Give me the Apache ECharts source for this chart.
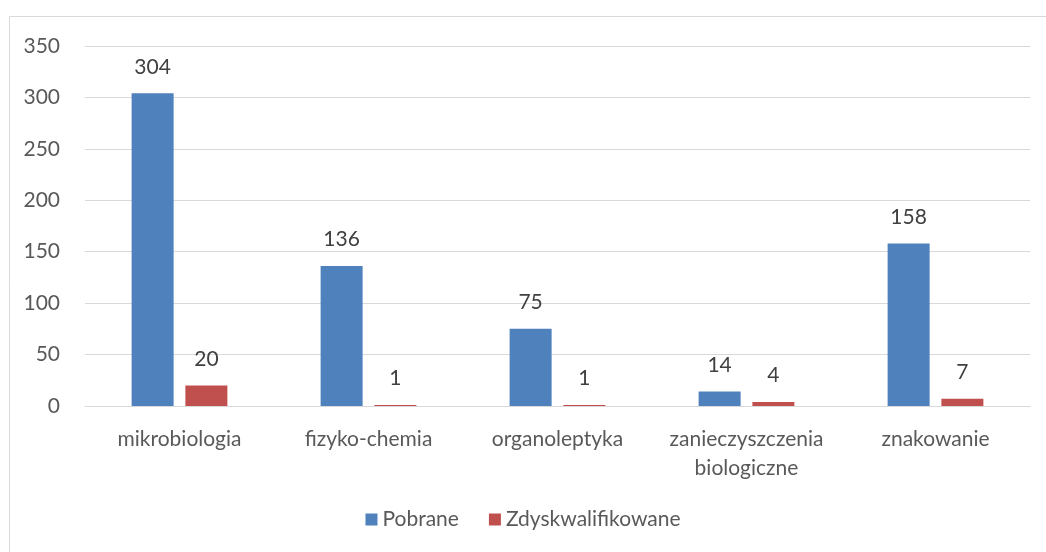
<!DOCTYPE html>
<html>
<head>
<meta charset="utf-8">
<script src="https://cdn.jsdelivr.net/npm/echarts@6/dist/echarts.min.js"></script>
<style>
  html, body { margin: 0; padding: 0; background: #fff; }
  #chart { width: 1046px; height: 552px; }
</style>
</head>
<body>
<div id="chart"></div>
<script>
  var categories = ['mikrobiologia', 'fizyko-chemia', 'organoleptyka', 'zanieczyszczenia\nbiologiczne', 'znakowanie'];
  var pobrane = [304, 136, 75, 14, 158];
  var zdyskwalifikowane = [20, 1, 1, 4, 7];

  var font = 'Lato';
  var fs = 21;
  var chart = echarts.init(document.getElementById('chart'));
  chart.setOption({
    animation: false,
    textStyle: { fontFamily: font },
    graphic: [{
      type: 'rect',
      shape: { x: 9.5, y: 16.5, width: 1100, height: 600 },
      style: { fill: 'none', stroke: '#d9d9d9', lineWidth: 1 },
      silent: true
    }],
    grid: { left: 85, right: 16, top: 46, bottom: 146 },
    legend: {
      bottom: 17,
      left: 'center',
      itemWidth: 12,
      itemHeight: 12,
      itemGap: 30,
      icon: 'rect',
      textStyle: { fontSize: fs, color: '#595959', fontFamily: font },
      data: ['Pobrane', 'Zdyskwalifikowane']
    },
    xAxis: {
      type: 'category',
      data: categories,
      axisLine: { lineStyle: { color: '#d9d9d9' } },
      axisTick: { show: false },
      axisLabel: { interval: 0, color: '#595959', fontSize: fs, margin: 19, lineHeight: 29, fontFamily: font }
    },
    yAxis: {
      type: 'value',
      min: 0,
      max: 350,
      interval: 50,
      axisLine: { show: false },
      axisTick: { show: false },
      splitLine: { lineStyle: { color: '#d9d9d9' } },
      axisLabel: { color: '#595959', fontSize: fs, margin: 25, fontFamily: font }
    },
    series: [{
      name: 'Pobrane',
      type: 'bar',
      data: pobrane,
      barWidth: 42,
      barGap: '28%',
      itemStyle: { color: '#4f81bd' },
      label: { show: true, position: 'top', distance: 16, color: '#404040', fontSize: fs, fontFamily: font }
    }, {
      name: 'Zdyskwalifikowane',
      type: 'bar',
      data: zdyskwalifikowane,
      barWidth: 42,
      itemStyle: { color: '#c0504d' },
      label: { show: true, position: 'top', distance: 16, color: '#404040', fontSize: fs, fontFamily: font }
    }]
  });
</script>
</body>
</html>
